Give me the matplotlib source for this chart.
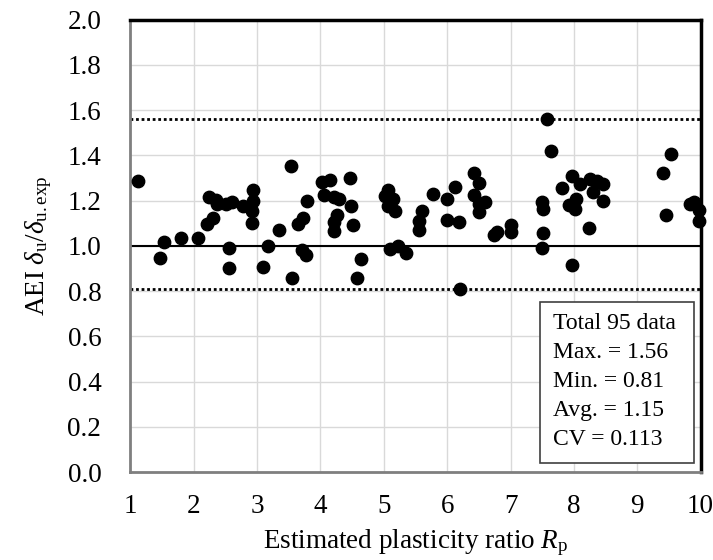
import matplotlib
matplotlib.use('Agg')
import matplotlib.pyplot as plt
from matplotlib.patches import Rectangle

plt.rcParams['font.family'] = ['Liberation Serif', 'DejaVu Serif']
plt.rcParams['mathtext.fontset'] = 'custom'
plt.rcParams['mathtext.rm'] = 'Liberation Serif'
plt.rcParams['mathtext.it'] = 'Liberation Serif:italic'

# data
rp = [1.12, 1.46, 1.53, 1.80, 2.07, 2.21, 2.30, 2.24, 2.35, 2.37,
      2.51, 2.61, 2.55, 2.55, 2.78, 2.94, 2.94, 2.92, 2.92, 3.17,
      3.09, 3.35, 3.53, 3.55, 3.65, 3.73, 3.71, 3.77, 3.78,
      4.02, 4.15, 4.06, 4.21, 4.30, 4.26, 4.22, 4.22, 4.47, 4.48,
      4.52, 4.64, 4.58,
      5.06, 5.02, 5.15, 5.06, 5.18, 5.10, 5.23, 5.35,
      5.61, 5.56, 5.56, 5.77, 5.99, 5.99, 6.18, 6.13, 6.20,
      6.43, 6.50, 6.43, 6.60, 6.50, 6.50, 6.74, 6.78, 7.01, 7.01,
      7.57, 7.64, 7.50, 7.51, 7.51, 7.50,
      7.81, 7.97, 8.09, 8.04, 7.93, 8.02, 7.97,
      8.26, 8.36, 8.46, 8.31, 8.46, 8.24,
      9.40, 9.54, 9.45, 9.83, 9.90, 9.97, 9.97]
ratio = [1.285, 0.947, 1.016, 1.033, 1.033, 1.096, 1.121, 1.217, 1.202, 1.183,
         1.183, 1.195, 0.991, 0.903, 1.178, 1.245, 1.198, 1.153, 1.099, 1.000,
         0.907, 1.072, 1.351, 0.859, 1.096, 1.125, 0.981, 0.959, 1.198,
         1.283, 1.293, 1.224, 1.217, 1.209, 1.136, 1.106, 1.065, 1.300, 1.175,
         1.091, 0.940, 0.856,
         1.246, 1.220, 1.205, 1.175, 1.153, 0.988, 0.999, 0.969,
         1.153, 1.110, 1.072, 1.228, 1.206, 1.113, 1.106, 1.258, 0.810,
         1.320, 1.276, 1.224, 1.195, 1.150, 1.187, 1.047, 1.060, 1.091, 1.062,
         1.560, 1.420, 1.195, 1.165, 1.055, 0.991,
         1.254, 1.309, 1.273, 1.205, 1.180, 1.165, 0.915,
         1.295, 1.286, 1.273, 1.239, 1.198, 1.077,
         1.323, 1.404, 1.136, 1.183, 1.192, 1.158, 1.110]

max_line = 1.56
min_line = 0.81
stats = ['Total 95 data', 'Max. = 1.56', 'Min. = 0.81', 'Avg. = 1.15', 'CV = 0.113']

fig = plt.figure(figsize=(7.13, 5.6), dpi=100)
ax = fig.add_axes([0.183, 0.157, 0.7995, 0.808])

ax.set_xlim(1, 10)
ax.set_ylim(0, 2.0)
ax.set_xticks(range(1, 11))
ax.set_yticks([i * 0.2 for i in range(11)])
ax.set_yticklabels(['%.1f' % (i * 0.2) for i in range(11)])
ax.grid(True, color='#d9d9d9', lw=1.0)
ax.set_axisbelow(True)
ax.tick_params(length=0, labelsize=19.5)
ax.tick_params(axis='y', pad=21)
ax.tick_params(axis='x', pad=16)

for s in ['top', 'right']:
    ax.spines[s].set_color('black')
    ax.spines[s].set_linewidth(2.5)
for s in ['left', 'bottom']:
    ax.spines[s].set_color('#7f7f7f')
    ax.spines[s].set_linewidth(2.0)

ax.axhline(1.0, color='black', lw=1.5, zorder=2)
ax.axhline(max_line, color='black', lw=2, ls=(0, (1, 1)), zorder=2)
ax.axhline(min_line, color='black', lw=2, ls=(0, (1, 1)), zorder=2)

ax.scatter(rp, ratio, s=80, color='black', zorder=3, clip_on=False)

ax.set_xlabel(r'Estimated plasticity ratio $R_\mathrm{p}$', fontsize=19.5, labelpad=6)
ax.set_ylabel(r'AEI $\mathit{δ}_\mathrm{u}/\mathit{δ}_\mathrm{u.exp}$',
              fontsize=19.5, labelpad=10)

# stats box
ax.add_patch(Rectangle((0.718, 0.020), 0.270, 0.356, transform=ax.transAxes,
                       facecolor='white', edgecolor='#404040', lw=1.2, zorder=4))
ax.text(0.741, 0.351, '\n'.join(stats), transform=ax.transAxes, fontsize=17,
        va='top', ha='left', linespacing=1.5, zorder=5)

fig.savefig('out.png', dpi=100)
